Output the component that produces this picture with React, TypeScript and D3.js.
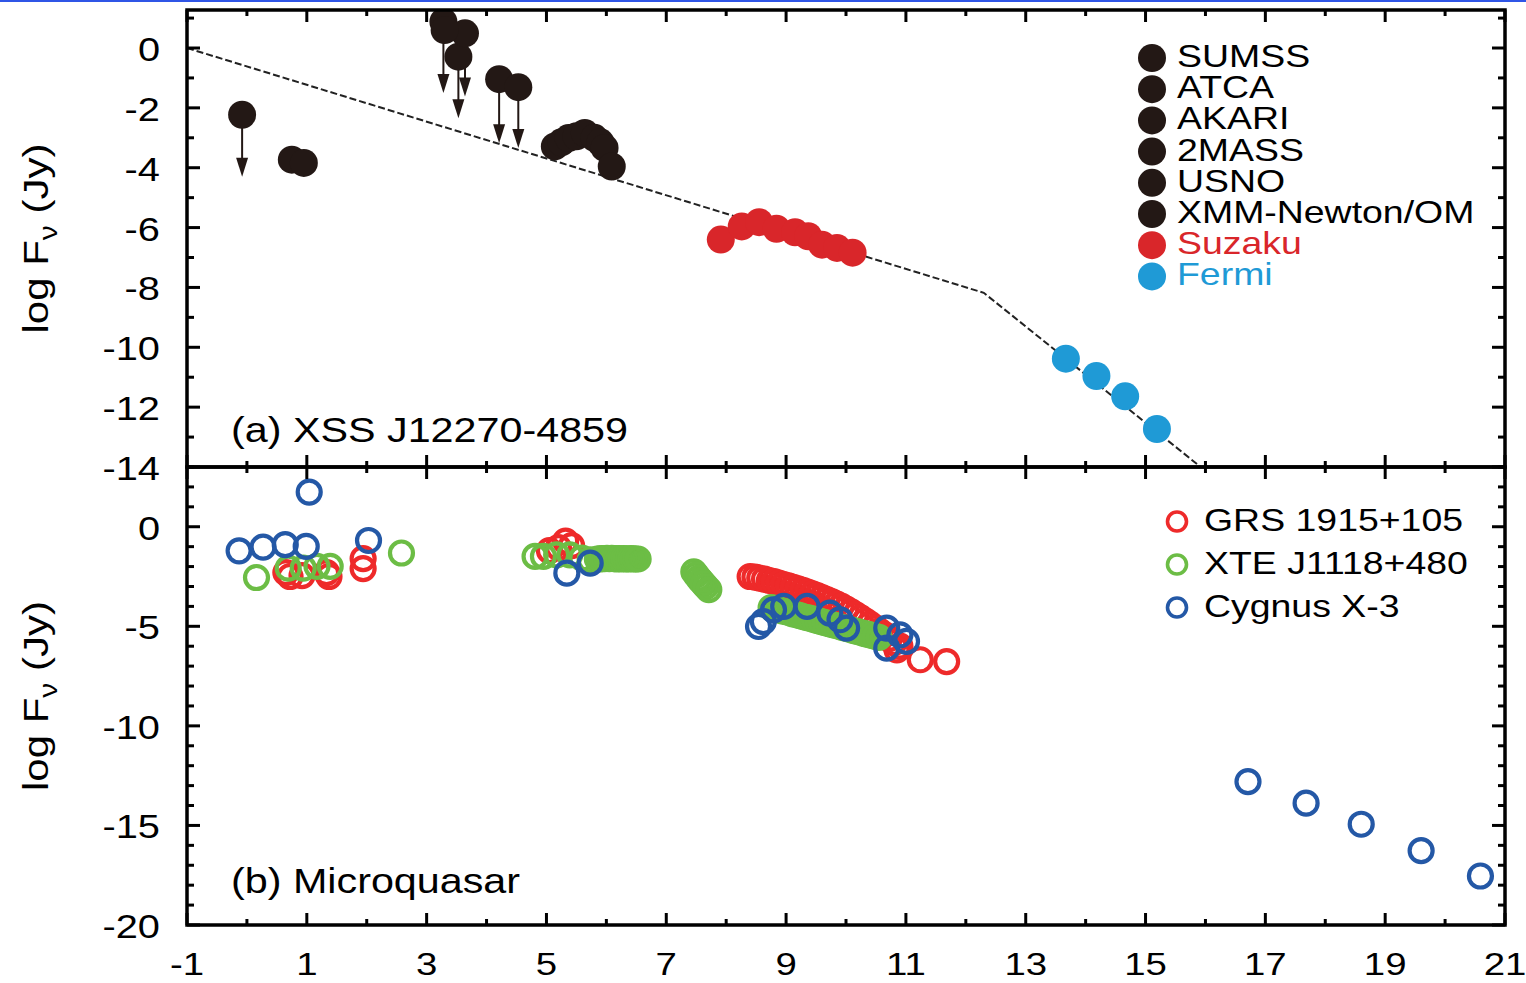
import * as d3 from "d3"

const W = 1526
const H = 983
const FONT = "'Liberation Sans', Arial, Helvetica, sans-serif"

// tick labels
const xTickLabels = [-1, 1, 3, 5, 7, 9, 11, 13, 15, 17, 19, 21]
const topTickLabels = [0, -2, -4, -6, -8, -10, -12, -14]
const botTickLabels = [0, -5, -10, -15, -20]

// (a) XSS J12270-4859 : radio / IR / optical detections (black)
const blackX = [0.75, 0.95, 3.3, 5.14, 5.25, 5.37, 5.5, 5.64, 5.8, 5.9, 5.97, 6.09]
const blackY = [-3.73, -3.84, 0.6, -3.29, -3.15, -3.01, -2.95, -2.84, -3.0, -3.15, -3.34, -3.96]
// upper limits (black, with arrows)
const limitX = [-0.08, 3.28, 3.53, 3.64, 4.21, 4.53]
const limitY = [-2.23, 0.88, -0.29, 0.49, -1.04, -1.31]
const limitTip = [-4.3, -1.5, -2.35, -1.62, -3.18, -3.34]
// Suzaku
const suzakuX = [7.91, 8.26, 8.55, 8.84, 9.15, 9.37, 9.6, 9.85, 10.11]
const suzakuY = [-6.4, -5.96, -5.82, -6.04, -6.16, -6.29, -6.57, -6.68, -6.84]
// Fermi
const fermiX = [13.67, 14.18, 14.66, 15.19]
const fermiY = [-10.38, -10.96, -11.64, -12.73]
// broken power-law model
const modelX = [-1, 12.3, 16.2]
const modelY = [0, -8.18, -14.45]

const legendA = ["SUMSS", "ATCA", "AKARI", "2MASS", "USNO", "XMM-Newton/OM", "Suzaku", "Fermi"]
const legendAColors = ["#231815", "#231815", "#231815", "#231815", "#231815", "#231815", "#d9262a", "#1f9ad6"]
const legendATextColors = ["#000", "#000", "#000", "#000", "#000", "#000", "#d9262a", "#1f9ad6"]

// (b) Microquasars
const grsX = [0.65, 0.72, 0.92, 1.33, 1.37, 1.94, 1.94, 5.05, 5.2, 5.32, 5.42,
  8.4, 8.48, 8.56, 8.64, 8.72, 8.8, 8.88, 8.96, 9.04, 9.12, 9.2, 9.28, 9.36, 9.44, 9.52, 9.6,
  9.68, 9.76, 9.84, 9.92, 10.0, 10.08, 10.16, 10.24, 10.32, 10.4, 10.48, 10.56, 10.64, 10.72,
  10.8, 10.9, 10.85, 11.24, 11.68]
const grsY = [-2.3, -2.5, -2.45, -2.3, -2.5, -1.6, -2.1, -1.2, -1.05, -0.72, -0.95,
  -2.5, -2.53, -2.58, -2.63, -2.7, -2.76, -2.83, -2.9, -2.97, -3.05, -3.12, -3.2, -3.28, -3.37, -3.46, -3.56,
  -3.66, -3.76, -3.87, -3.99, -4.12, -4.26, -4.41, -4.56, -4.72, -4.89, -5.06, -5.24, -5.42, -5.62,
  -5.82, -6.0, -6.18, -6.68, -6.77]
const xteX = [0.16, 0.69, 0.94, 1.17, 1.39, 2.58,
  4.81, 4.95, 5.17, 5.39, 5.59, 5.73, 5.85, 5.89, 5.93, 5.97, 6.01, 6.05, 6.09, 6.13, 6.17,
  6.21, 6.25, 6.29, 6.33, 6.37, 6.41, 6.45, 6.49, 6.53,
  7.46, 7.5, 7.54, 7.58, 7.62, 7.66, 7.71,
  8.75, 8.81, 8.87, 8.93, 8.99, 9.05, 9.11, 9.17, 9.23, 9.29, 9.35, 9.41, 9.47, 9.53, 9.59,
  9.65, 9.71, 9.77, 9.83, 9.89, 9.95, 10.01, 10.07, 10.13, 10.19, 10.25, 10.31, 10.37, 10.43,
  10.49, 10.55]
const xteY = [-2.55, -2.08, -2.08, -1.99, -1.99, -1.32,
  -1.49, -1.49, -1.41, -1.41, -1.57, -1.66, -1.62, -1.61, -1.6, -1.6, -1.59, -1.6, -1.59, -1.6, -1.61,
  -1.6, -1.61, -1.6, -1.61, -1.62, -1.6, -1.61, -1.62, -1.62,
  -2.26, -2.42, -2.58, -2.72, -2.86, -3.0, -3.16,
  -4.06, -4.1, -4.16, -4.22, -4.26, -4.3, -4.37, -4.41, -4.46, -4.52, -4.56, -4.6, -4.66, -4.71, -4.77,
  -4.81, -4.86, -4.92, -4.96, -5.01, -5.07, -5.11, -5.16, -5.22, -5.26, -5.31, -5.37, -5.41, -5.46,
  -5.51, -5.56]
const cygX = [-0.13, 0.27, 0.64, 0.99, 1.04, 2.03, 5.34, 5.73,
  8.54, 8.62, 8.79, 8.96, 9.35, 9.73, 9.9, 10.01, 10.68, 10.68, 10.9, 11.01,
  16.71, 17.68, 18.6, 19.6, 20.59]
const cygY = [-1.21, -1.02, -0.9, -0.99, 1.74, -0.69, -2.33, -1.83,
  -5.01, -4.76, -4.17, -4.0, -4.0, -4.34, -4.67, -5.09, -5.09, -6.1, -5.43, -5.76,
  -12.8, -13.88, -14.94, -16.27, -17.54]

const legendB = ["GRS 1915+105", "XTE J1118+480", "Cygnus X-3"]
const legendBColors = ["#ee2a2a", "#6cbd45", "#2458a6"]

// layout
const left = 187
const right = 1505
const top = 10
const mid = 467
const bottom = 925

const x = d3.scaleLinear().domain([-1, 21]).range([left, right])
const yA = d3.scaleLinear().domain([-14, 1.27]).range([mid, top])
const yB = d3.scaleLinear().domain([-20, 3]).range([bottom, mid])

const xTicks = d3.range(-1, 22)
const yATicks = d3.range(-14, 2)
const yBTicks = d3.range(-20, 4)

// the reference glyphs are wider than Liberation Sans, so text is stretched along its baseline
function SText({ x, y, size, sx = 1.17, anchor = "start", fill = "#000", rotate = 0, children }: any) {
  return (
    <text
      transform={`translate(${x},${y}) rotate(${rotate}) scale(${sx},1)`}
      fontSize={size}
      fontFamily={FONT}
      textAnchor={anchor}
      fill={fill}
    >
      {children}
    </text>
  )
}

function Frame({ y, ticks, y0, y1, isMajorY }: any) {
  return (
    <g stroke="#000" strokeWidth={3}>
      {xTicks.map((t) => {
        const len = Math.abs(t % 2) === 1 ? 12 : 6
        return (
          <g key={`x${t}`}>
            <line x1={x(t)} x2={x(t)} y1={y0} y2={y0 - len} />
            <line x1={x(t)} x2={x(t)} y1={y1} y2={y1 + len} />
          </g>
        )
      })}
      {(ticks as number[]).map((t) => {
        const len = isMajorY(t) ? 13 : 7
        return (
          <g key={`y${t}`}>
            <line x1={left} x2={left + len} y1={y(t)} y2={y(t)} />
            <line x1={right} x2={right - len} y1={y(t)} y2={y(t)} />
          </g>
        )
      })}
      <rect x={left} y={y1} width={right - left} height={y0 - y1} fill="none" strokeWidth={3.5} />
    </g>
  )
}

function YTitle({ cy }: { cy: number }) {
  return (
    <SText x={48} y={cy} size={35} sx={1.2} anchor="middle" rotate={-90}>
      <tspan>log F</tspan>
      <tspan dy={9} fontSize={25}>ν</tspan>
      <tspan dy={-9}> (Jy)</tspan>
    </SText>
  )
}

export default function App() {
  const model = d3
    .line<number>()
    .x((d) => x(d))
    .y((_, i) => yA(modelY[i]))(modelX)

  const black = "#231815"
  const legendARow = (i: number) => 58 + i * 31.2

  return (
    <svg
      width={W}
      height={H}
      viewBox={`0 0 ${W} ${H}`}
      style={{ position: "absolute", left: 0, top: 0, background: "#fff" }}
    >
      <defs>
        <clipPath id="clipA">
          <rect x={left} y={top} width={right - left} height={mid - top} />
        </clipPath>
        <clipPath id="clipB">
          <rect x={left} y={mid} width={right - left} height={bottom - mid} />
        </clipPath>
      </defs>
      <rect x={0} y={0} width={W} height={2} fill="#2f55e6" />

      {/* panel (a) */}
      <g clipPath="url(#clipA)">
        <path d={model || ""} fill="none" stroke="#222" strokeWidth={2} strokeDasharray="7,3" />
        {limitX.map((lx, i) => {
          const px = x(lx)
          const py = yA(limitY[i])
          const tip = yA(limitTip[i])
          return (
            <g key={`lim${i}`}>
              <line x1={px} x2={px} y1={py} y2={tip - 16} stroke={black} strokeWidth={2} />
              <path d={`M${px - 6},${tip - 19}L${px + 6},${tip - 19}L${px},${tip}Z`} fill={black} />
            </g>
          )
        })}
        {limitX.map((lx, i) => (
          <circle key={`lc${i}`} cx={x(lx)} cy={yA(limitY[i])} r={14} fill={black} />
        ))}
        {blackX.map((bx, i) => (
          <circle key={`b${i}`} cx={x(bx)} cy={yA(blackY[i])} r={14} fill={black} />
        ))}
        {suzakuX.map((sx, i) => (
          <circle key={`s${i}`} cx={x(sx)} cy={yA(suzakuY[i])} r={14} fill="#d9262a" />
        ))}
        {fermiX.map((fx, i) => (
          <circle key={`f${i}`} cx={x(fx)} cy={yA(fermiY[i])} r={14} fill="#1f9ad6" />
        ))}
      </g>

      {/* panel (b) */}
      <g clipPath="url(#clipB)" fill="none" strokeWidth={4.2}>
        {grsX.map((gx, i) => (
          <circle key={`g${i}`} cx={x(gx)} cy={yB(grsY[i])} r={11.5} stroke="#ee2a2a" />
        ))}
        {xteX.map((tx, i) => (
          <circle key={`t${i}`} cx={x(tx)} cy={yB(xteY[i])} r={11.5} stroke="#6cbd45" />
        ))}
        {cygX.map((cx, i) => (
          <circle key={`c${i}`} cx={x(cx)} cy={yB(cygY[i])} r={11.5} stroke="#2458a6" />
        ))}
      </g>

      <Frame y={yA} ticks={yATicks} y0={mid} y1={top} isMajorY={(t: number) => t % 2 === 0} />
      <Frame y={yB} ticks={yBTicks} y0={bottom} y1={mid} isMajorY={(t: number) => t % 5 === 0} />

      {/* tick labels */}
      {topTickLabels.map((t) => (
        <SText key={`ta${t}`} x={160} y={yA(t) + 13} size={34} anchor="end">{t}</SText>
      ))}
      {botTickLabels.map((t) => (
        <SText key={`tb${t}`} x={160} y={yB(t) + 13} size={34} anchor="end">{t}</SText>
      ))}
      {xTickLabels.map((t) => (
        <SText key={`tx${t}`} x={x(t)} y={975} size={32} sx={1.2} anchor="middle">{t}</SText>
      ))}

      <YTitle cy={(top + mid) / 2} />
      <YTitle cy={(mid + bottom) / 2} />

      <SText x={231} y={442} size={35} sx={1.18}>(a) XSS J12270-4859</SText>
      <SText x={231} y={893} size={35} sx={1.18}>(b) Microquasar</SText>

      {/* legend (a) */}
      {legendA.map((name, i) => (
        <g key={name}>
          <circle cx={1152} cy={legendARow(i)} r={14} fill={legendAColors[i]} />
          <SText x={1177} y={legendARow(i) + 9} size={32} sx={1.17} fill={legendATextColors[i]}>{name}</SText>
        </g>
      ))}

      {/* legend (b) */}
      {legendB.map((name, i) => (
        <g key={name}>
          <circle cx={1177} cy={521.5 + i * 43} r={9.5} fill="none" stroke={legendBColors[i]} strokeWidth={3.6} />
          <SText x={1204} y={531 + i * 43} size={32} sx={1.17}>{name}</SText>
        </g>
      ))}
    </svg>
  )
}
